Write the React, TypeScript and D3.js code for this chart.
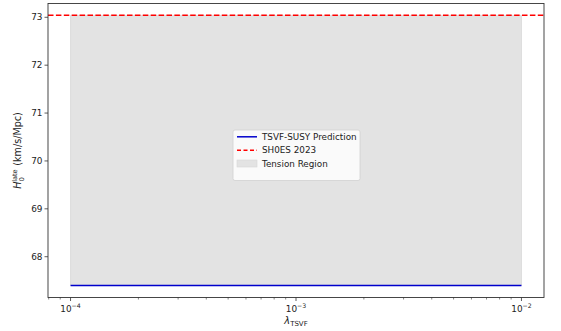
import React from "react";
import * as d3 from "d3";

const lambdaRange = [1e-4, 1e-2];
const predictionH0 = [67.4, 67.4];
const shoesH0 = 73.04;
const yTicks = [68, 69, 70, 71, 72, 73];
const xMajorTicks = [-4, -3, -2];
const legendLabels = ["TSVF-SUSY Prediction", "SH0ES 2023", "Tension Region"];

const W = 561;
const H = 331;
const M = { left: 48, right: 544, top: 3.5, bottom: 297.5 };
const FONT = "DejaVu Sans, sans-serif";

export default function App() {
  const x = d3.scaleLog().domain([10 ** -4.1, 10 ** -1.9]).range([M.left, M.right]);
  const y = d3.scaleLinear().domain([67.148, 73.288]).range([M.bottom, M.top]);

  const minorTicks: number[] = [];
  for (let e = -5; e <= -2; e++) {
    for (let k = 2; k <= 9; k++) {
      const v = k * 10 ** e;
      if (v >= x.domain()[0] && v <= x.domain()[1]) minorTicks.push(v);
    }
  }

  const line = d3
    .line<number>()
    .x((_, i) => x(lambdaRange[i]))
    .y((d) => y(d));

  const area = d3
    .area<number>()
    .x((d) => x(d))
    .y0(() => y(predictionH0[0]))
    .y1(() => y(shoesH0));

  const lx = 233;
  const ly = 130;

  return (
    <svg width={W} height={H} style={{ position: "absolute", left: 0, top: 0 }} fontFamily={FONT}>
      <rect width={W} height={H} fill="#fff" />
      <path d={area(lambdaRange) ?? ""} fill="#e3e3e3" stroke="#d8d8d8" strokeWidth={0.8} />
      <path d={line(predictionH0) ?? ""} fill="none" stroke="#0000cc" strokeWidth={1.5} />
      <line x1={M.left} x2={M.right} y1={y(shoesH0)} y2={y(shoesH0)} stroke="#ff0000" strokeWidth={1.5} strokeDasharray="5.5,2.4" />

      <rect x={M.left} y={M.top} width={M.right - M.left} height={M.bottom - M.top} fill="none" stroke="#333" strokeWidth={0.9} />

      {yTicks.map((t) => (
        <g key={t} transform={`translate(0,${y(t)})`}>
          <line x1={M.left - 3.5} x2={M.left} stroke="#333" strokeWidth={0.8} />
          <text x={M.left - 5.5} dy="0.35em" textAnchor="end" fontSize={8.9} fill="#222">{t}</text>
        </g>
      ))}

      {minorTicks.map((t) => (
        <line key={t} x1={x(t)} x2={x(t)} y1={M.bottom} y2={M.bottom + 2} stroke="#333" strokeWidth={0.6} />
      ))}
      {xMajorTicks.map((e) => (
        <g key={e} transform={`translate(${x(10 ** e)},${M.bottom})`}>
          <line y2={3.5} stroke="#333" strokeWidth={0.8} />
          <text y={14.5} textAnchor="middle" fontSize={8.9} fill="#222">
            10<tspan dy={-4} fontSize={6.2}>{"\u2212" + Math.abs(e)}</tspan>
          </text>
        </g>
      ))}

      <text x={(M.left + M.right) / 2} y={324} textAnchor="middle" fontSize={9.8} fill="#222">
        <tspan fontStyle="italic">λ</tspan>
        <tspan dy={1.5} fontSize={7}>TSVF</tspan>
      </text>

      <text transform={`translate(21,${(M.top + M.bottom) / 2}) rotate(-90)`} textAnchor="middle" fontSize={9.6} fill="#222">
        <tspan fontStyle="italic">H</tspan>
        <tspan dx={-0.3} dy={-4.2} fontSize={6.6}>late</tspan>
        <tspan dx={-12} dy={7} fontSize={6.6}>0</tspan>
        <tspan dx={8.4} dy={-2.8}> (km/s/Mpc)</tspan>
      </text>

      <g transform={`translate(${lx},${ly})`}>
        <rect width={127} height={50.5} rx={2} fill="#fff" fillOpacity={0.8} stroke="#d0d0d0" strokeWidth={0.8} />
        <line x1={4} x2={24} y1={6.8} y2={6.8} stroke="#0000cc" strokeWidth={1.5} />
        <line x1={4} x2={24} y1={20.2} y2={20.2} stroke="#ff0000" strokeWidth={1.5} strokeDasharray="4,2.5" />
        <rect x={4} y={30} width={20} height={7} fill="#e3e3e3" stroke="#d8d8d8" strokeWidth={0.6} />
        {legendLabels.map((l, i) => (
          <text key={l} x={29} y={6.8 + i * 13.4} dy="0.35em" fontSize={8.8} fill="#222">{l}</text>
        ))}
      </g>
    </svg>
  );
}
